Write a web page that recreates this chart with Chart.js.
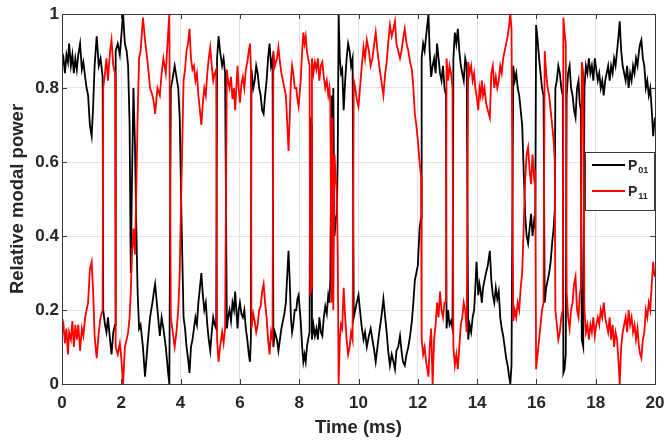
<!DOCTYPE html>
<html>
<head>
<meta charset="utf-8">
<script src="https://cdn.jsdelivr.net/npm/chart.js@4/dist/chart.umd.min.js"></script>
<style>
  html, body { margin: 0; padding: 0; background: #ffffff; }
  #wrap { width: 668px; height: 443px; position: relative; }
</style>
</head>
<body>
<div id="wrap"><canvas id="c" width="668" height="443"></canvas></div>
<script>
// ---- Data (time in ms, relative modal power) ----
const time = [
  0,0.05,0.1,0.15,0.2,0.24,0.3,0.35,0.4,0.45,0.5,0.55,0.61,0.67,0.72,0.78,0.83,0.88,0.94,1.0,1.05,1.1,1.17,1.24,1.3,1.37,
  1.39,1.45,1.5,1.55,1.62,1.67,1.73,1.79,
  1.81,1.88,1.95,2.0,2.06,2.12,2.18,2.23,
  2.28,2.32,2.36,2.41,2.46,2.5,2.55,2.6,
  2.65,2.73,2.8,2.9,2.97,3.05,3.1,3.14,3.22,3.3,3.36,3.42,3.5,3.58,3.62,
  3.67,3.72,3.8,3.86,3.92,3.97,4.03,4.1,
  4.15,4.2,4.25,4.3,4.35,4.4,4.45,4.5,4.55,4.6,4.65,4.7,4.75,4.8,4.85,4.9,4.95,5.0,5.05,5.1,5.15,5.2,
  5.23,5.28,5.33,5.4,5.45,5.5,
  5.56,5.6,5.65,5.7,5.75,5.8,5.84,5.88,5.92,5.96,6.0,6.05,6.1,6.15,6.2,6.25,6.3,6.34,6.37,
  6.39,6.45,6.5,6.55,6.6,6.65,6.7,6.75,6.8,6.85,6.9,6.95,7.0,7.05,7.1,
  7.13,7.18,7.25,7.3,7.35,7.4,7.45,7.5,7.55,7.6,7.64,7.68,7.72,7.76,7.8,7.85,7.9,7.94,7.98,8.02,8.05,8.1,8.14,8.18,8.22,8.26,8.3,8.35,
  8.37,8.41,
  8.43,8.48,8.53,8.58,8.63,8.68,8.73,8.78,8.83,8.88,8.93,8.98,9.02,9.05,
  9.09,9.12,9.15,9.19,9.23,9.27,9.3,9.33,9.37,9.41,
  9.45,9.5,9.55,9.6,9.65,9.7,9.75,9.8,
  9.84,9.89,9.94,10.0,10.05,10.1,10.17,10.22,10.28,10.35,10.41,10.47,10.53,10.58,10.64,10.7,10.77,10.84,10.9,10.95,11.0,11.06,11.12,11.18,11.23,11.28,11.34,11.4,11.45,11.5,11.56,11.62,11.68,11.74,11.8,11.85,11.9,11.95,12.0,12.06,12.11,
  12.13,12.18,12.23,12.28,12.32,12.36,12.4,12.45,12.5,12.55,12.6,12.65,12.7,12.75,12.8,12.85,12.9,12.95,
  12.97,13.02,13.07,13.12,13.17,
  13.2,13.25,13.3,13.35,13.4,13.45,13.5,13.55,13.6,13.65,
  13.7,13.75,13.8,13.85,13.9,13.94,13.98,14.04,14.08,14.12,14.16,14.2,14.25,14.3,14.36,14.43,14.48,14.53,14.58,14.63,14.68,14.73,14.78,14.83,14.88,14.93,14.98,15.03,15.08,15.12,15.16,
  15.22,15.27,15.32,15.37,15.42,15.47,15.52,15.57,15.62,15.67,15.72,15.77,15.82,15.87,15.92,15.96,
  15.99,16.04,16.09,16.14,16.19,16.24,
  16.28,16.33,16.38,16.43,16.48,16.53,16.58,16.62,
  16.64,16.69,16.74,16.79,16.84,16.89,
  16.91,16.95,16.99,
  17.02,17.07,17.12,17.17,17.22,17.27,17.32,17.37,17.42,17.46,17.5,
  17.53,17.58,
  17.62,17.67,17.72,17.77,17.82,17.87,17.92,17.97,18.02,18.07,18.12,18.17,18.22,18.27,18.32,18.37,18.42,18.47,18.52,18.57,18.62,18.67,18.72,18.77,18.81,18.86,18.91,18.96,19.01,19.06,19.11,19.16,19.21,19.26,19.31,19.36,19.41,19.46,19.5,19.54,19.59,19.64,19.69,19.74,19.79,19.84,19.89,19.94,19.97,20.0
];
const p01 = [
  0.86,0.88,0.84,0.89,0.87,0.92,0.86,0.89,0.84,0.88,0.85,0.89,0.92,0.85,0.87,0.83,0.80,0.78,0.70,0.67,0.75,0.86,0.94,0.86,0.88,0.83,
  0.20,0.16,0.14,0.18,0.12,0.08,0.14,0.16,
  0.90,0.92,0.89,0.94,1.00,0.92,0.90,0.86,
  0.70,0.30,0.55,0.80,0.65,0.45,0.25,0.15,
  0.16,0.10,0.02,0.12,0.18,0.22,0.25,0.27,0.20,0.13,0.18,0.15,0.10,0.03,0.00,
  0.80,0.82,0.86,0.83,0.80,0.72,0.45,0.18,
  0.15,0.10,0.07,0.03,0.10,0.12,0.15,0.18,0.16,0.22,0.26,0.30,0.24,0.20,0.22,0.16,0.12,0.09,0.14,0.18,0.16,0.15,
  0.88,0.94,0.90,0.86,0.88,0.84,
  0.15,0.18,0.20,0.17,0.22,0.20,0.25,0.20,0.15,0.20,0.22,0.19,0.18,0.20,0.15,0.12,0.08,0.06,0.12,
  0.85,0.80,0.82,0.86,0.84,0.80,0.78,0.74,0.73,0.78,0.82,0.88,0.92,0.86,0.88,
  0.10,0.14,0.12,0.09,0.12,0.15,0.17,0.19,0.22,0.30,0.36,0.28,0.18,0.14,0.16,0.20,0.20,0.23,0.24,0.20,0.17,0.10,0.06,0.08,0.06,0.10,0.12,0.14,
  0.72,0.70,
  0.12,0.16,0.13,0.15,0.12,0.18,0.14,0.13,0.18,0.21,0.19,0.24,0.22,0.28,
  0.78,0.30,0.80,0.40,0.44,0.46,0.62,1.00,0.88,0.84,
  0.85,0.74,0.82,0.88,0.92,0.90,0.86,0.88,
  0.18,0.20,0.22,0.24,0.20,0.16,0.12,0.14,0.10,0.13,0.15,0.12,0.09,0.06,0.10,0.14,0.18,0.23,0.18,0.14,0.09,0.05,0.08,0.06,0.04,0.09,0.10,0.13,0.09,0.06,0.05,0.08,0.10,0.13,0.17,0.22,0.28,0.30,0.32,0.42,0.45,
  0.88,0.92,0.90,0.94,0.97,1.00,0.90,0.83,0.86,0.88,0.84,0.92,0.88,0.84,0.82,0.86,0.80,0.78,
  0.15,0.20,0.16,0.17,0.15,
  0.88,0.95,0.92,0.96,0.90,0.86,0.84,0.82,0.88,0.86,
  0.12,0.16,0.14,0.18,0.20,0.26,0.33,0.24,0.27,0.25,0.22,0.26,0.28,0.30,0.32,0.36,0.28,0.24,0.22,0.26,0.23,0.25,0.18,0.15,0.13,0.10,0.07,0.05,0.02,0.00,0.05,
  0.86,0.82,0.84,0.80,0.78,0.74,0.70,0.58,0.46,0.40,0.38,0.42,0.46,0.40,0.44,0.42,
  0.97,0.93,0.88,0.84,0.80,0.78,
  0.22,0.26,0.28,0.30,0.33,0.38,0.42,0.47,
  0.80,0.82,0.86,0.84,0.80,0.78,
  0.03,0.04,0.08,
  0.78,0.84,0.86,0.80,0.78,0.74,0.72,0.80,0.82,0.76,0.74,
  0.12,0.10,
  0.80,0.86,0.84,0.88,0.84,0.86,0.82,0.88,0.85,0.82,0.84,0.80,0.82,0.78,0.82,0.84,0.86,0.82,0.86,0.84,0.88,0.86,0.90,0.94,0.98,0.90,0.86,0.84,0.82,0.86,0.80,0.84,0.82,0.86,0.84,0.88,0.86,0.90,0.92,0.93,0.88,0.86,0.80,0.82,0.78,0.80,0.74,0.67,0.70,0.72
];
const p11 = [
  0.14,0.16,0.11,0.15,0.08,0.14,0.12,0.17,0.10,0.16,0.12,0.16,0.09,0.15,0.13,0.18,0.20,0.22,0.31,0.33,0.25,0.13,0.07,0.14,0.18,0.20,
  0.80,0.84,0.88,0.82,0.90,0.93,0.86,0.84,
  0.10,0.08,0.11,0.07,0.00,0.10,0.12,0.14,
  0.18,0.25,0.35,0.42,0.35,0.50,0.72,0.88,
  0.90,0.99,0.93,0.86,0.80,0.78,0.76,0.73,0.80,0.78,0.84,0.88,0.84,0.95,1.00,
  0.18,0.15,0.10,0.14,0.20,0.30,0.55,0.82,
  0.85,0.90,0.92,0.96,0.88,0.85,0.86,0.82,0.84,0.78,0.74,0.70,0.76,0.80,0.78,0.84,0.88,0.91,0.86,0.82,0.84,0.85,
  0.12,0.06,0.10,0.14,0.11,0.15,
  0.85,0.82,0.80,0.83,0.77,0.80,0.74,0.80,0.86,0.80,0.76,0.81,0.83,0.80,0.85,0.87,0.90,0.92,0.86,
  0.15,0.19,0.17,0.14,0.16,0.20,0.21,0.25,0.27,0.22,0.18,0.12,0.08,0.14,0.12,
  0.90,0.86,0.88,0.91,0.87,0.84,0.82,0.80,0.78,0.70,0.63,0.72,0.82,0.86,0.84,0.80,0.80,0.77,0.75,0.79,0.82,0.90,0.95,0.92,0.94,0.90,0.88,0.86,
  0.24,0.26,
  0.88,0.84,0.87,0.85,0.88,0.82,0.86,0.87,0.83,0.80,0.82,0.78,0.80,0.76,
  0.22,0.72,0.20,0.62,0.56,0.52,0.35,0.00,0.12,0.16,
  0.15,0.26,0.18,0.12,0.08,0.10,0.14,0.12,
  0.82,0.80,0.77,0.75,0.80,0.85,0.91,0.88,0.93,0.90,0.86,0.88,0.92,0.95,0.90,0.86,0.82,0.78,0.84,0.87,0.92,0.97,0.94,0.96,0.98,0.92,0.90,0.88,0.90,0.93,0.96,0.92,0.90,0.87,0.85,0.80,0.73,0.70,0.66,0.60,0.56,
  0.12,0.08,0.10,0.06,0.04,0.02,0.10,0.15,0.00,0.12,0.16,0.22,0.18,0.25,0.20,0.18,0.22,0.22,
  0.88,0.82,0.86,0.84,0.80,
  0.10,0.05,0.08,0.04,0.10,0.16,0.18,0.22,0.20,0.14,
  0.87,0.84,0.86,0.82,0.84,0.80,0.78,0.74,0.80,0.78,0.82,0.78,0.80,0.76,0.74,0.72,0.84,0.86,0.80,0.83,0.80,0.82,0.86,0.84,0.88,0.90,0.92,0.94,0.97,1.00,0.96,
  0.17,0.20,0.18,0.22,0.20,0.26,0.30,0.42,0.55,0.62,0.64,0.58,0.54,0.62,0.56,0.58,
  0.04,0.08,0.12,0.16,0.20,0.22,
  0.90,0.84,0.80,0.78,0.74,0.70,0.66,0.60,
  0.20,0.16,0.12,0.14,0.18,0.20,
  0.99,0.95,0.92,
  0.25,0.18,0.15,0.20,0.22,0.27,0.29,0.20,0.18,0.24,0.26,
  0.87,0.84,
  0.20,0.14,0.16,0.12,0.16,0.14,0.18,0.13,0.16,0.18,0.16,0.20,0.18,0.22,0.18,0.16,0.14,0.18,0.12,0.16,0.10,0.14,0.12,0.06,0.00,0.10,0.14,0.16,0.18,0.14,0.20,0.16,0.18,0.14,0.16,0.12,0.15,0.10,0.08,0.07,0.12,0.14,0.20,0.18,0.22,0.20,0.27,0.33,0.30,0.29
];
const xTickValues = [0, 2, 4, 6, 8, 10, 12, 14, 16, 18, 20];
const yTickLabels = ['0', '0.2', '0.4', '0.6', '0.8', '1'];
const legendMain = ['P', 'P'];
const legendSub = ['01', '11'];
const seriesColors = ['#000000', '#ff0000'];
// ---------------------------------------------------------------------------------

if (time.length !== p01.length || time.length !== p11.length) {
  console.warn('length mismatch', time.length, p01.length, p11.length);
}
const toPoints = (vals) => time.map((t, i) => ({ x: t, y: vals[i] }));

const FONT = '"Liberation Sans", Arial, Helvetica, sans-serif';
const AXIS_COLOR = '#262626';

const boxPlugin = {
  id: 'matlabBox',
  afterDatasetsDraw(chart) {
    const { ctx, chartArea: a, scales } = chart;
    ctx.save();
    ctx.strokeStyle = '#3a3a3a';
    ctx.lineWidth = 1;
    ctx.beginPath();
    const tl = 5;
    xTickValues.forEach(v => {
      const px = Math.round(scales.x.getPixelForValue(v)) + 0.5;
      ctx.moveTo(px, a.bottom); ctx.lineTo(px, a.bottom - tl);
      ctx.moveTo(px, a.top); ctx.lineTo(px, a.top + tl);
    });
    yTickLabels.forEach(l => {
      const py = Math.round(scales.y.getPixelForValue(parseFloat(l))) + 0.5;
      ctx.moveTo(a.left, py); ctx.lineTo(a.left + tl, py);
      ctx.moveTo(a.right, py); ctx.lineTo(a.right - tl, py);
    });
    ctx.stroke();
    ctx.strokeRect(Math.round(a.left) + 0.5, Math.round(a.top) + 0.5,
                   Math.round(a.right - a.left), Math.round(a.bottom - a.top));

    // legend box
    const lx = a.right - 70, ly = a.top + 138, lw = 69, lh = 58;
    ctx.fillStyle = '#ffffff';
    ctx.fillRect(lx, ly, lw, lh);
    ctx.strokeStyle = '#3a3a3a';
    ctx.strokeRect(Math.round(lx) + 0.5, Math.round(ly) + 0.5, lw, lh);
    const rows = [ly + 13, ly + 39];
    rows.forEach((ry, i) => {
      ctx.strokeStyle = seriesColors[i];
      ctx.lineWidth = 1.8;
      ctx.beginPath();
      ctx.moveTo(lx + 7, ry); ctx.lineTo(lx + 40, ry);
      ctx.stroke();
      ctx.fillStyle = AXIS_COLOR;
      ctx.textBaseline = 'alphabetic';
      ctx.textAlign = 'left';
      ctx.font = 'bold 14px ' + FONT;
      ctx.fillText(legendMain[i], lx + 43, ry + 5);
      const w = ctx.measureText(legendMain[i]).width;
      ctx.font = 'bold 9px ' + FONT;
      ctx.fillText(legendSub[i], lx + 43 + w + 1, ry + 8);
    });
    ctx.restore();
  }
};

new Chart(document.getElementById('c'), {
  type: 'line',
  data: {
    datasets: [
      { label: 'P01', data: toPoints(p01), borderColor: seriesColors[0], borderWidth: 1.8,
        pointRadius: 0, tension: 0, fill: false, order: 1 },
      { label: 'P11', data: toPoints(p11), borderColor: seriesColors[1], borderWidth: 1.8,
        pointRadius: 0, tension: 0, fill: false, order: 0 }
    ]
  },
  options: {
    responsive: false,
    animation: false,
    devicePixelRatio: 1,
    layout: { padding: { left: 0, right: 13, top: 14, bottom: 0 } },
    plugins: { legend: { display: false }, tooltip: { enabled: false } },
    scales: {
      x: {
        type: 'linear', min: 0, max: 20,
        afterFit: (s) => { s.height = 59; s.paddingLeft = 0; s.paddingRight = 0; },
        afterBuildTicks: (s) => { s.ticks = xTickValues.map(v => ({ value: v })); },
        ticks: { color: AXIS_COLOR, font: { family: FONT, size: 17, weight: 'bold' }, padding: 9, maxRotation: 0,
                 callback: (v) => String(v) },
        grid: { color: '#e3e3e3', lineWidth: 1, drawTicks: false },
        border: { display: false },
        title: { display: true, text: 'Time (ms)', color: AXIS_COLOR,
                 font: { family: FONT, size: 18.5, weight: 'bold' }, padding: { top: 0, bottom: 4 } }
      },
      y: {
        type: 'linear', min: 0, max: 1,
        afterFit: (s) => { s.width = 62; s.paddingTop = 0; s.paddingBottom = 0; },
        afterBuildTicks: (s) => { s.ticks = yTickLabels.map(l => ({ value: parseFloat(l) })); },
        ticks: { color: AXIS_COLOR, font: { family: FONT, size: 17, weight: 'bold' }, padding: 3,
                 callback: (v) => yTickLabels.find(l => parseFloat(l) === v) ?? String(v) },
        grid: { color: '#e3e3e3', lineWidth: 1, drawTicks: false },
        border: { display: false },
        title: { display: true, text: 'Relative modal power', color: AXIS_COLOR,
                 font: { family: FONT, size: 18.5, weight: 'bold' }, padding: { top: 7, bottom: 0 } }
      }
    }
  },
  plugins: [boxPlugin]
});
</script>
</body>
</html>
